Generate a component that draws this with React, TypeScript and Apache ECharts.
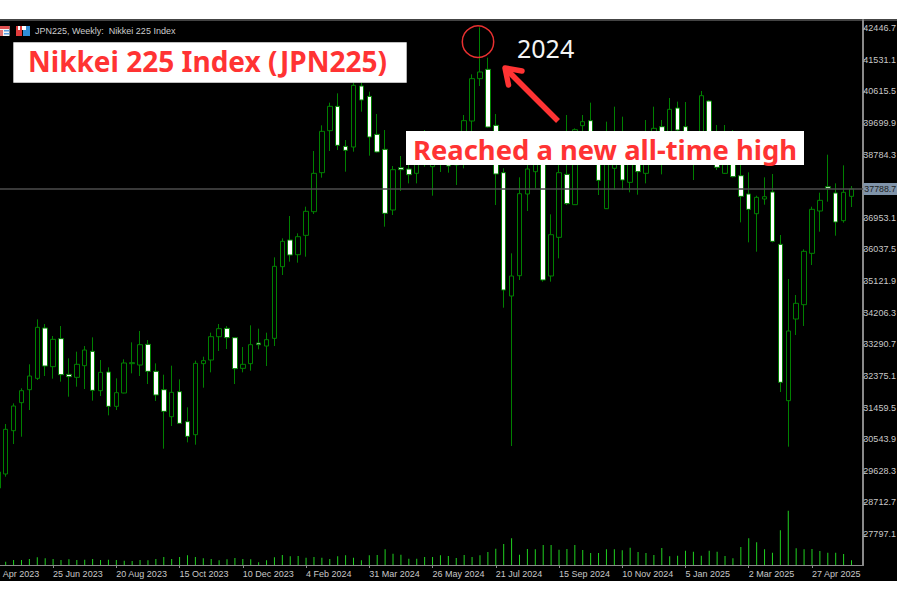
import React, { useEffect, useRef } from "react";
import * as echarts from "echarts";

const yTickValues = [42446.7, 41531.1, 40615.5, 39699.9, 38784.3, 36953.1, 36037.5, 35121.9, 34206.3, 33290.7, 32375.1, 31459.5, 30543.9, 29628.3, 28712.7, 27797.1];
const xTickLabels = ["25 Jun 2023", "20 Aug 2023", "15 Oct 2023", "10 Dec 2023", "4 Feb 2024", "31 Mar 2024", "26 May 2024", "21 Jul 2024", "15 Sep 2024", "10 Nov 2024", "5 Jan 2025", "2 Mar 2025", "27 Apr 2025"];
const firstLabel = "Apr 2023";
const lastPrice = 37788.7;

const opens = [29130,29535,30789,31600,31976,32304,33761,32642,33453,32420,32333,32671,33086,31947,32488,31494,31880,32729,32690,33289,32507,31976,31194,31918,31050,30673,32729,32835,33510,33752,33482,32594,32729,33327,33240,33462,35537,36309,35884,36444,37129,38258,39474,40179,39021,39001,40767,40468,39368,38934,37177,38403,38364,38239,39011,38432,38577,38770,38480,38818,39754,40980,41250,39629,38258,34688,35276,37641,38287,38528,35267,36386,38210,37332,39619,39764,39011,37216,38384,38914,37978,38818,38239,38818,39590,39011,40130,39590,38625,39445,40333,39107,38239,39011,38171,37641,37071,37496,37699,36184,31658,34022,34437,35923,37149,37853,37670,36869,37573];
const closes = [29593,30828,31503,31947,32372,33781,32661,33433,32410,32352,32710,33124,31957,32478,31494,31889,32748,32758,33279,32507,31822,31349,31899,31001,30625,32738,32816,33510,33742,33482,32584,32710,33279,33279,33424,35547,36270,35875,36405,37139,38239,39455,40179,39050,38905,40787,40362,39291,38857,37081,38345,38345,38200,38577,38577,38721,38818,38451,38818,39764,40980,41173,39580,38220,34861,35267,37650,38364,38625,35151,36463,38258,37361,39503,39735,39252,38036,39107,38914,38046,38721,38287,39011,39542,39011,40092,39493,39011,38914,40487,39445,38413,39011,38142,37573,37197,37544,37563,36270,32189,33675,34476,35981,37197,37457,37805,36830,37689,37788.7];
const lows = [29014,29457,30403,30615,31387,32256,32372,32295,32208,31773,32063,31995,31658,31793,31233,31387,31870,32449,32372,32140,31648,30268,30924,30982,30451,30384,32034,32478,33096,33153,32140,32478,32526,33144,32661,33240,35296,35682,35653,35826,37062,38114,38886,38914,38287,38866,40024,38750,38837,36695,37033,37728,37949,37949,38432,37592,38278,38258,37901,38384,39465,40767,39561,37322,34350,30345,35151,37149,37805,35103,35103,35778,37322,37322,39011,38721,37612,37206,37756,37756,37689,37621,37949,38528,38210,38721,38914,38625,38046,38914,39011,38335,38220,38123,36820,36241,35971,37332,36241,31909,30326,33559,33820,35585,36550,37419,36434,36811,37264];
const highs = [29795,30982,31580,32015,32710,34012,33877,33530,33819,32883,33076,33240,33491,32835,32623,32304,32854,33346,33675,33414,32738,32410,32671,32275,31465,32816,32931,33626,33877,33819,33491,33211,33839,33742,33626,35807,36357,37004,36502,37274,38886,39629,40285,40555,39204,40864,40864,40603,39957,39493,38451,38741,38528,38673,39493,38818,38914,38866,39011,39928,41105,42466,41588,39957,38384,35923,38123,38770,38818,38625,37052,38818,39928,39542,39928,40285,39300,39735,40169,39879,38914,39107,39783,40169,39783,40420,40314,40304,39204,40623,40362,39638,39638,39493,38818,38268,37592,38123,38220,36454,35180,34717,36039,37274,37679,38779,37949,38471,37872];
const volumes = [10,10,15,15,18,23,20,18,15,17,15,16,18,15,16,15,13,12,15,14,18,24,18,24,29,24,20,18,14,17,21,18,17,8,14,23,30,26,27,22,24,22,18,26,29,22,14,29,30,47,34,31,19,19,24,24,29,27,21,30,24,29,39,49,63,80,31,48,47,60,60,46,48,60,45,36,36,47,47,44,52,39,36,30,51,26,28,43,40,28,43,40,27,20,54,80,68,47,37,104,163,50,47,48,42,37,37,33,14];

const CATEGORY_COUNT = 110;
const categories = Array.from({ length: CATEGORY_COUNT }, (_, i) =>
  i === 0 ? firstLabel : i % 8 === 7 && (i - 7) / 8 < xTickLabels.length ? xTickLabels[(i - 7) / 8] : String(i)
);
const showLabelAt = (i: number) => i === 0 || i % 8 === 7;
const showTickAt = (i: number) => i % 8 === 7;

const candleData = opens.map((o, i) => [o, closes[i], lows[i], highs[i]]);

const RED = "#ff3333";
const LEFT = -6.19;
const WIDTH = 869.55;

function overlay(): any[] {
  const z = 100;
  const rect = (x: number, y: number, width: number, height: number, fill: string) => ({
    type: "rect", z, silent: true, shape: { x, y, width, height }, style: { fill },
  });
  return [
    rect(0, 26, 9.5, 10, "#f4f4f4"),
    rect(0, 26, 9.5, 3, "#e05050"),
    rect(0, 30, 3, 6, "#e07070"),
    rect(4, 30, 5.5, 1.5, "#5a9fe0"),
    rect(4, 33, 5.5, 1.5, "#5a9fe0"),
    rect(16, 26, 6, 10, "#e03c3c"),
    rect(18, 26, 2, 4, "#ffffff"),
    rect(23, 26, 7, 10, "#2f8fd8"),
    rect(22, 26, 4, 4, "#ffffff"),
    { type: "text", z, silent: true, style: { text: "JPN225, Weekly:  Nikkei 225 Index", x: 35, y: 31, fill: "#cccccc", font: '9px "Liberation Sans"', textAlign: "left", textVerticalAlign: "middle" } },
    rect(13.3, 42.3, 393.4, 40.4, "#ffffff"),
    { type: "text", z: z + 1, silent: true, style: { text: "Nikkei 225 Index (JPN225)", x: 28, y: 60.5, fill: RED, font: 'bold 28px "Noto Sans"', textAlign: "left", textVerticalAlign: "middle" } },
    rect(406, 131, 398, 34, "#ffffff"),
    { type: "text", z: z + 1, silent: true, style: { text: "Reached a new all-time high", x: 413, y: 149, fill: RED, font: 'bold 27.4px "Noto Sans"', textAlign: "left", textVerticalAlign: "middle" } },
    { type: "text", z: z + 1, silent: true, style: { text: "2024", x: 517, y: 47.5, fill: "#f4f4f4", font: '25px "Noto Sans"', textAlign: "left", textVerticalAlign: "middle" } },
    { type: "circle", z: z + 1, silent: true, shape: { cx: 478, cy: 41.7, r: 15.7 }, style: { fill: "none", stroke: "#e83030", lineWidth: 1.5 } },
    { type: "line", z: z + 1, silent: true, shape: { x1: 558, y1: 121, x2: 506, y2: 69 }, style: { stroke: RED, lineWidth: 5.5 } },
    { type: "polyline", z: z + 1, silent: true, shape: { points: [[522, 71], [505, 68], [508.5, 85]] }, style: { stroke: RED, fill: "none", lineWidth: 5.5, lineCap: "round", lineJoin: "round" } },
  ];
}

export default function App() {
  const ref = useRef<HTMLDivElement>(null);
  useEffect(() => {
    document.body.style.margin = "0";
    const chart = echarts.init(ref.current!, null, { renderer: "svg", width: 897, height: 600 });
    chart.setOption({
      animation: false,
      backgroundColor: "transparent",
      grid: [
        { left: LEFT, width: WIDTH, top: 20, height: 545, outerBoundsMode: "none" },
        { left: LEFT, width: WIDTH, top: 510, height: 55, outerBoundsMode: "none" },
      ],
      xAxis: [
        {
          type: "category",
          gridIndex: 0,
          data: categories,
          boundaryGap: true,
          axisLine: { show: true, lineStyle: { color: "#8a8a8a", width: 1 } },
          axisTick: { show: true, alignWithLabel: true, length: 3, interval: (i: number) => showTickAt(i), lineStyle: { color: "#8a8a8a" } },
          axisLabel: {
            show: true,
            interval: (i: number) => showLabelAt(i),
            align: "left",
            margin: 4,
            color: "#c8c8c8",
            fontFamily: "Liberation Sans",
            fontSize: 9,
            formatter: (v: string) => (v === firstLabel ? `{first|${v}}` : v),
            rich: { first: { padding: [0, 0, 0, 5], color: "#c8c8c8", fontFamily: "Liberation Sans", fontSize: 9 } },
          },
          splitLine: { show: false },
        },
        { type: "category", gridIndex: 1, data: categories, boundaryGap: true, axisLine: { show: false }, axisTick: { show: false }, axisLabel: { show: false }, splitLine: { show: false } },
      ],
      yAxis: [
        {
          type: "value",
          gridIndex: 0,
          position: "right",
          offset: -1,
          min: 26900.5,
          max: 42678.3,
          axisLine: { show: true, lineStyle: { color: "#8a8a8a", width: 2 } },
          axisTick: { show: true, length: 3, customValues: yTickValues, lineStyle: { color: "#8a8a8a" } },
          axisLabel: {
            show: true,
            customValues: yTickValues,
            margin: 1,
            align: "left",
            color: "#c8c8c8",
            fontFamily: "Liberation Sans",
            fontSize: 9,
            formatter: (v: number) => v.toFixed(1),
          },
          splitLine: { show: false },
        },
        { type: "value", gridIndex: 1, min: 0, max: 165, show: false, splitLine: { show: false } },
      ],
      series: [
        {
          type: "bar",
          xAxisIndex: 1,
          yAxisIndex: 1,
          data: volumes,
          barWidth: 1,
          itemStyle: { color: "#20d020" },
          silent: true,
        },
        {
          type: "candlestick",
          xAxisIndex: 0,
          yAxisIndex: 0,
          data: candleData,
          barWidth: 5,
          itemStyle: { color: "#000000", color0: "#ffffff", borderColor: "#008000", borderColor0: "#008000", borderWidth: 1 },
          silent: true,
          markLine: {
            silent: true,
            symbol: "none",
            animation: false,
            data: [{ yAxis: lastPrice }],
            lineStyle: { color: "#4d4d4d", width: 1.5, type: "solid" },
            label: {
              show: true,
              position: "end",
              distance: 0,
              formatter: () => lastPrice.toFixed(1),
              backgroundColor: "#7f93a9",
              color: "#1c1c1c",
              fontFamily: "Liberation Sans",
              fontSize: 8.8,
              padding: [1.5, 1, 1.5, 1],
            },
          },
        },
      ],
      graphic: { elements: overlay() },
    });
    return () => chart.dispose();
  }, []);
  return (
    <div style={{ position: "fixed", left: 0, top: 0, width: 900, height: 600, background: "#ffffff", overflow: "hidden" }}>
      <div style={{ position: "absolute", left: 0, top: 19, width: 897, height: 562, background: "#000000", borderTop: "2px solid #444444", boxSizing: "border-box" }} />
      <div ref={ref} style={{ position: "absolute", left: 0, top: 0, width: 897, height: 600 }} />
    </div>
  );
}
